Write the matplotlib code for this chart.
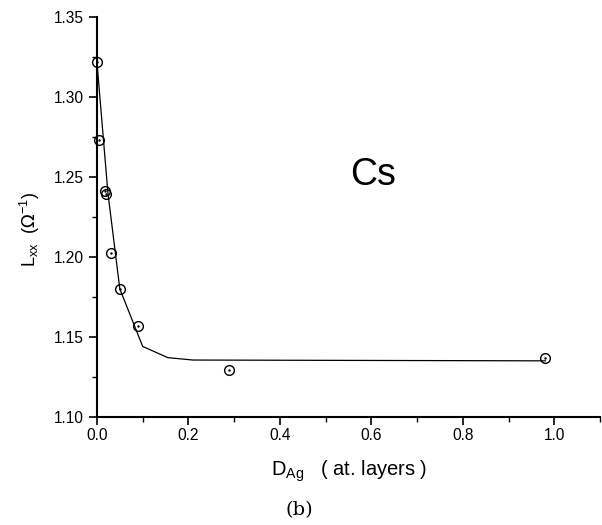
import numpy as np
import matplotlib.pyplot as plt
from matplotlib.ticker import MultipleLocator

# measured points
d_ag = [0.0, 0.004, 0.017, 0.020, 0.031, 0.050, 0.090, 0.289, 0.980]
l_xx = [1.322, 1.273, 1.241, 1.239, 1.2025, 1.180, 1.157, 1.129, 1.137]

# fit curve
fit_x = [0.0, 0.024, 0.050, 0.100, 0.155, 0.210, 0.980]
fit_y = [1.322, 1.240, 1.180, 1.144, 1.137, 1.1355, 1.135]

plt.rcParams['font.family'] = ['Liberation Sans', 'DejaVu Sans']

fig = plt.figure(figsize=(6.02, 5.25), dpi=100)
ax = fig.add_axes([0.161, 0.206, 0.836, 0.762])

ax.plot(fit_x, fit_y, color='black', lw=0.9)
ax.plot(d_ag, l_xx, 'o', mfc='none', mec='black', ms=7, mew=1.0, clip_on=False)
ax.plot(d_ag, l_xx, '.', color='black', ms=1.5, clip_on=False)

ax.set_xlim(0, 1.1)
ax.set_ylim(1.10, 1.35)
ax.xaxis.set_major_locator(MultipleLocator(0.2))
ax.xaxis.set_minor_locator(MultipleLocator(0.1))
ax.yaxis.set_major_locator(MultipleLocator(0.05))
ax.yaxis.set_minor_locator(MultipleLocator(0.025))
ax.set_xticks([0.0, 0.2, 0.4, 0.6, 0.8, 1.0])
ax.set_xticklabels(['0.0', '0.2', '0.4', '0.6', '0.8', '1.0'])
ax.set_yticks([1.10, 1.15, 1.20, 1.25, 1.30, 1.35])
ax.set_yticklabels(['1.10', '1.15', '1.20', '1.25', '1.30', '1.35'])

for s in ['top', 'right']:
    ax.spines[s].set_visible(False)
for s in ['left', 'bottom']:
    ax.spines[s].set_linewidth(1.5)
ax.tick_params(which='major', direction='out', length=6, width=1.2, labelsize=11.2)
ax.tick_params(axis='x', which='major', pad=2)
ax.tick_params(which='minor', direction='out', length=3.5, width=1.0)

ax.set_xlabel(r'D$_{\mathregular{Ag}}$   ( at. layers )', fontsize=14.5)
ax.xaxis.set_label_coords(0.501, -0.105)
ax.set_ylabel(r'L$_{\mathregular{xx}}$  ($\Omega^{\mathregular{-1}}$)', fontsize=13)
ax.yaxis.set_label_coords(-0.11, 0.4675)

ax.text(0.604, 1.251, 'Cs', fontsize=27, ha='center', va='center')
fig.text(0.498, 0.028, '(b)', fontsize=14, family='DejaVu Serif', ha='center', va='center')

fig.savefig('out.png', dpi=100)
